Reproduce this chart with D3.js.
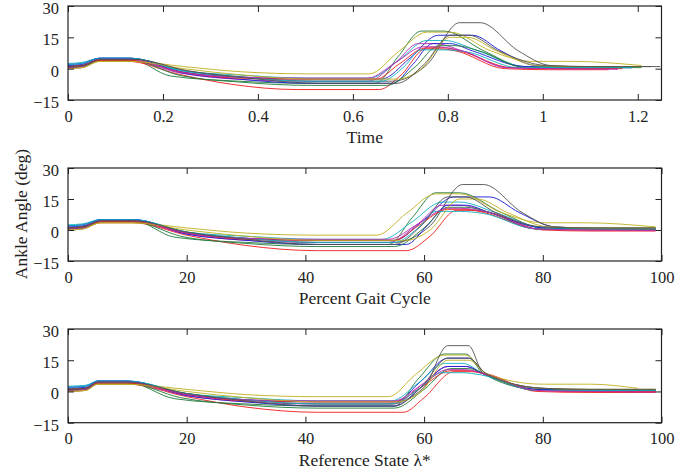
<!DOCTYPE html>
<html>
<head>
<meta charset="utf-8">
<script src="https://cdn.jsdelivr.net/npm/d3@7"></script>
<style>
  body { margin: 0; background: #fff; }
  text { font-family: "Liberation Serif", "Times New Roman", serif; fill: #222; }
</style>
</head>
<body>
<svg id="viz"></svg>
<script>
var width = 697;
var height = 476;

// one entry per trial, MATLAB colour order
var trialColors = ["#1a1ad6", "#1f7a3a", "#ee1c1c", "#10b0c0", "#b52fb5", "#c0b020", "#505050",
                   "#1a1ad6", "#1f7a3a", "#ee1c1c", "#10b0c0", "#b52fb5", "#c0b020", "#505050"];

// stride duration of each trial (s)
var strideTime = [1.20, 1.20, 1.15, 1.20, 1.17, 1.22, 1.24, 1.20, 1.22, 1.18, 1.20, 1.17, 1.22, 1.26];

// ankle angle (deg) at key points of each trial
var angleY = [
  [1.5, 2.0, 5.0, 5.0, -1.5, -4.0, -5.0, -5.0, 5.0, 16.0, 16.0, 8.5, 1.5, 0.8, 0.5],
  [1.0, 1.5, 4.5, 4.5, -3.5, -6.0, -7.0, -7.0, 6.0, 18.0, 18.0, 8.5, 1.0, 0.8, 0.8],
  [0.5, 1.0, 3.5, 3.5, -2.5, -7.5, -10.0, -10.0, -3.0, 9.5, 9.5, 8.5, 0.0, -0.5, -0.5],
  [2.5, 3.0, 5.0, 5.0, -1.0, -3.0, -4.5, -4.5, 4.0, 13.5, 13.5, 8.5, 1.0, 0.5, 0.5],
  [0.0, 0.5, 4.0, 4.0, -2.0, -5.0, -6.0, -6.0, 3.0, 12.0, 12.0, 8.5, 0.5, 0.0, 0.0],
  [0.0, 0.5, 3.5, 3.5, 1.0, -1.5, -2.5, -2.5, 8.0, 17.5, 17.5, 8.5, 3.5, 3.5, 1.5],
  [1.0, 1.5, 4.5, 4.5, -1.0, -4.0, -6.0, -6.0, 2.0, 22.0, 22.0, 8.5, 1.5, 1.0, 1.0],
  [2.0, 2.5, 5.0, 5.0, -2.0, -5.0, -7.0, -7.0, 2.0, 12.0, 12.0, 8.5, 1.0, 0.5, 0.5],
  [0.5, 1.0, 4.0, 4.0, -3.0, -6.5, -8.0, -8.0, 1.0, 11.0, 11.0, 8.5, 0.5, 0.5, 0.5],
  [1.0, 1.5, 4.0, 4.0, -1.5, -4.5, -5.0, -5.0, 2.0, 10.0, 10.0, 8.5, 0.5, 0.0, 0.0],
  [2.0, 2.5, 5.0, 5.0, -1.0, -4.0, -6.0, -6.0, 1.0, 9.0, 9.0, 8.0, 0.5, 0.5, 0.5],
  [0.5, 1.0, 4.5, 4.5, -1.5, -4.0, -4.5, -4.5, 3.0, 10.5, 10.5, 8.5, 0.5, 0.0, -0.3],
  [0.0, 0.5, 3.5, 3.5, 0.0, -3.0, -5.0, -5.0, 0.0, 15.0, 15.0, 8.5, 1.5, 1.0, 1.0],
  [1.0, 1.5, 4.5, 4.5, -1.0, -4.5, -7.0, -7.0, 2.0, 16.0, 16.0, 8.5, 1.5, 1.0, 1.0]
];

// percent gait cycle of the key points
var pctX = [
  [0, 2.5, 5.5, 11, 20, 30, 42, 55, 60, 65, 71, 76, 82, 88, 99],
  [0, 2.5, 5.5, 11, 18, 30, 42, 54, 58, 62, 66, 73, 80, 88, 99],
  [0, 2.5, 5.5, 11, 20, 30, 42, 57, 61, 65.5, 68, 71, 80, 88, 99],
  [0, 2.5, 5.5, 11, 20, 30, 42, 53, 58, 63, 66, 72, 80, 88, 99],
  [0, 2.5, 5.5, 11, 20, 30, 42, 54, 59, 63, 66, 71, 79, 88, 99],
  [0, 2.5, 5.5, 11, 20, 30, 42, 52, 57, 62, 66, 73, 80, 87, 99],
  [0, 2.5, 5.5, 11, 20, 30, 42, 55, 61, 66.5, 70, 76.5, 82, 88, 99],
  [0, 2.5, 5.5, 11, 20, 30, 42, 57, 60.5, 64, 67, 71, 80, 88, 99],
  [0, 2.5, 5.5, 11, 19, 30, 42, 55, 60, 64, 67, 71, 79, 88, 99],
  [0, 2.5, 5.5, 11, 20, 30, 42, 55, 59, 64, 67, 70, 79, 88, 99],
  [0, 2.5, 5.5, 11, 20, 30, 42, 55, 59, 62, 66, 70, 79, 88, 99],
  [0, 2.5, 5.5, 11, 20, 30, 42, 54, 59, 64, 66, 71, 79, 88, 99],
  [0, 2.5, 5.5, 11, 20, 30, 42, 57, 61, 66, 69, 74, 81, 88, 99],
  [0, 2.5, 5.5, 11, 20, 30, 42, 55, 59.5, 64, 67, 72, 80, 88, 99]
];

// reference state lambda* of the key points
var lamX = [
  [0, 3, 5, 10, 20, 30, 42, 55, 59.5, 64, 67.5, 70.5, 80, 88, 99],
  [0, 3, 5, 10, 18, 30, 42, 55, 59, 63.5, 67, 70, 79, 88, 99],
  [0, 3, 5, 10, 20, 30, 42, 56.5, 60, 65, 68, 70.5, 79, 88, 99],
  [0, 3, 5, 10, 20, 30, 42, 54.5, 59, 63.5, 66.5, 70, 79, 88, 99],
  [0, 3, 5, 10, 20, 30, 42, 55, 59.5, 64, 67, 70, 79, 88, 99],
  [0, 3, 5, 10, 20, 30, 42, 54, 58.5, 63.5, 67, 70.5, 80, 88, 96],
  [0, 3, 5, 10, 20, 30, 42, 54, 60, 64, 67.5, 70, 80, 88, 99],
  [0, 3, 5, 10, 20, 30, 42, 55, 59.5, 64, 67, 70, 79, 88, 99],
  [0, 3, 5, 10, 19, 30, 42, 55, 60, 64.5, 67.5, 70, 79, 88, 99],
  [0, 3, 5, 10, 20, 30, 42, 55, 59.5, 64.5, 67.5, 70, 79, 88, 99],
  [0, 3, 5, 10, 20, 30, 42, 54.5, 59, 63, 66.5, 69.5, 79, 88, 99],
  [0, 3, 5, 10, 20, 30, 42, 55, 59.5, 64, 67, 70, 79, 88, 99],
  [0, 3, 5, 10, 20, 30, 42, 55.5, 59.5, 64, 67.5, 70.5, 80, 88, 99],
  [0, 3, 5, 10, 20, 30, 42, 55, 59.5, 64, 67.5, 70.5, 80, 88, 99]
];

var timeTicks = [0, 0.2, 0.4, 0.6, 0.8, 1, 1.2];
var pctTicks = [0, 20, 40, 60, 80, 100];
var angleTicks = [-15, 0, 15, 30];

var svg = d3.select("#viz")
    .attr("width", width)
    .attr("height", height);

var left = 68, right = 661.5;

var panels = [
  { top: 6, bottom: 100, domain: [0, 1.25], ticks: timeTicks, label: "Time", xs: "time" },
  { top: 168, bottom: 261, domain: [0, 100], ticks: pctTicks, label: "Percent Gait Cycle", xs: "pct" },
  { top: 329, bottom: 422.7, domain: [0, 100], ticks: pctTicks, label: "Reference State  \u03bb*", xs: "lam" }
];

var fmt = function (d) { return String(+d.toFixed(1)); };

panels.forEach(function (p, pi) {
    var x = d3.scaleLinear().domain(p.domain).range([left, right]);
    var y = d3.scaleLinear().domain([-15, 30]).range([p.bottom, p.top]);
    var g = svg.append("g");

    g.append("clipPath").attr("id", "clip" + pi)
        .append("rect")
        .attr("x", left).attr("y", p.top)
        .attr("width", right - left).attr("height", p.bottom - p.top);

    var line = d3.line()
        .x(function (d) { return x(d[0]); })
        .y(function (d) { return y(d[1]); })
        .curve(d3.curveMonotoneX);

    var series = angleY.map(function (vals, i) {
        return vals.map(function (v, k) {
            var xv;
            if (p.xs === "time") xv = pctX[i][k] / 100 * strideTime[i];
            else if (p.xs === "pct") xv = pctX[i][k];
            else xv = lamX[i][k];
            return [xv, v];
        });
    });

    g.append("g").attr("clip-path", "url(#clip" + pi + ")")
        .selectAll("path")
        .data(series)
        .enter().append("path")
        .attr("d", line)
        .attr("fill", "none")
        .attr("stroke", function (d, i) { return trialColors[i]; })
        .attr("stroke-width", 1)
        .attr("stroke-opacity", 0.9);

    // axes with inward ticks on all four sides
    var bottomAxis = d3.axisBottom(x).tickValues(p.ticks).tickFormat(fmt).tickSizeInner(-6).tickSizeOuter(0).tickPadding(10);
    var topAxis = d3.axisTop(x).tickValues(p.ticks).tickFormat("").tickSizeInner(-6).tickSizeOuter(0);
    var leftAxis = d3.axisLeft(y).tickValues(angleTicks).tickSizeInner(-6).tickSizeOuter(0).tickPadding(9);
    var rightAxis = d3.axisRight(y).tickValues(angleTicks).tickFormat("").tickSizeInner(-6).tickSizeOuter(0);

    var ax = [
        g.append("g").attr("transform", "translate(0," + p.bottom + ")").call(bottomAxis),
        g.append("g").attr("transform", "translate(0," + p.top + ")").call(topAxis),
        g.append("g").attr("transform", "translate(" + left + ",0)").call(leftAxis),
        g.append("g").attr("transform", "translate(" + right + ",0)").call(rightAxis)
    ];
    ax.forEach(function (a) {
        a.attr("font-family", "Liberation Serif").attr("font-size", 16.5);
        a.select(".domain").remove();
        a.selectAll("line").attr("stroke", "#222");
        a.selectAll("text")
            .style("font-family", "Liberation Serif")
            .style("font-size", "16.5px")
            .attr("fill", "#222");
    });
    ax[2].selectAll("text").attr("dy", "0.45em");

    g.append("rect")
        .attr("x", left).attr("y", p.top)
        .attr("width", right - left).attr("height", p.bottom - p.top)
        .attr("fill", "none")
        .attr("stroke", "#222")
        .attr("stroke-width", 1.2);

    g.append("text")
        .attr("x", (left + right) / 2)
        .attr("y", p.bottom + 43)
        .attr("text-anchor", "middle")
        .style("font-size", "17.5px")
        .text(p.label);
});

svg.append("text")
    .attr("transform", "translate(27,214) rotate(-90)")
    .attr("text-anchor", "middle")
    .style("font-size", "17.5px")
    .text("Ankle Angle (deg)");
</script>
</body>
</html>
